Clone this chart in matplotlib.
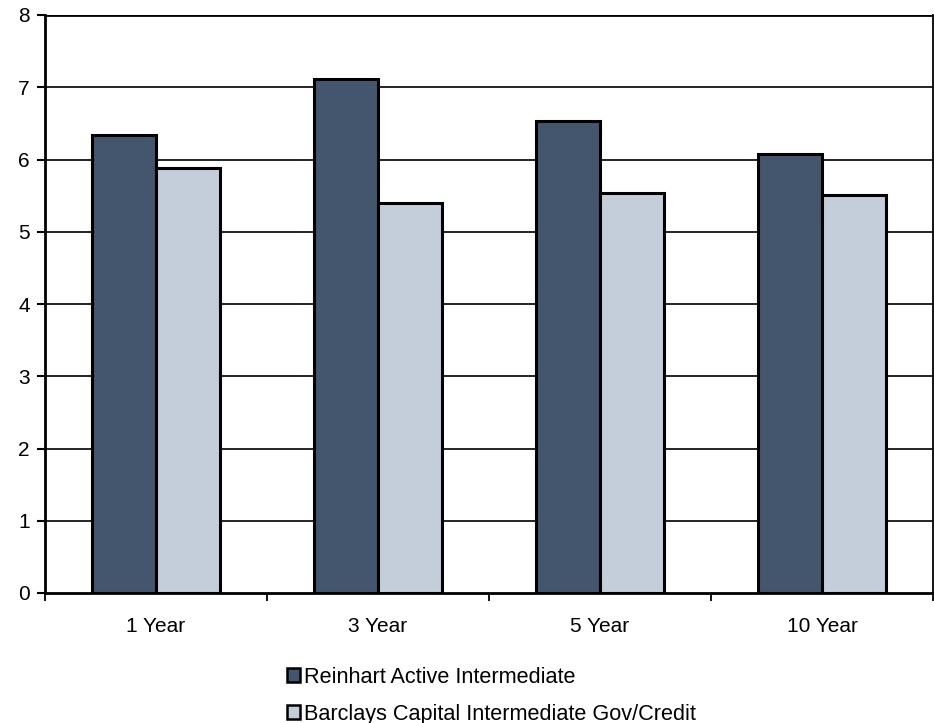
import matplotlib
matplotlib.use("Agg")
import matplotlib.pyplot as plt
from matplotlib.patches import Patch
import numpy as np

plt.rcParams['font.family'] = ['Liberation Sans', 'DejaVu Sans']

# data
periods = ['1 Year', '3 Year', '5 Year', '10 Year']
reinhart = [6.34, 7.11, 6.53, 6.08]
barclays = [5.88, 5.40, 5.54, 5.51]
series_names = ['Reinhart Active Intermediate',
                'Barclays Capital Intermediate Gov/Credit']

dark = '#44566e'
light = '#c3ceda'
fs = 15

fig = plt.figure(figsize=(9.34, 7.23), dpi=100)
ax = fig.add_axes([45/934, 1 - 593/723, 888/934, 578/723])

x = np.arange(len(periods))
w = 0.29
ax.bar(x - w/2, reinhart, w, color=dark, edgecolor='black', linewidth=2.2, zorder=3)
ax.bar(x + w/2, barclays, w, color=light, edgecolor='black', linewidth=2.2, zorder=3)

ax.set_xlim(-0.5, len(periods) - 0.5)
ax.set_ylim(0, 8)
ax.set_yticks(range(0, 9))
for yv in range(1, 9):
    ax.axhline(yv, color='black', lw=1.2 if yv < 8 else 2, zorder=1)

ax.set_xticks(x)
ax.set_xticklabels(periods, fontsize=fs)
ax.tick_params(axis='x', length=0, pad=17)
ax.set_xticks(np.arange(-0.5, len(periods)), minor=True)
ax.tick_params(axis='x', which='minor', length=6, width=1.3, direction='out')
ax.tick_params(axis='y', length=6, width=1.5, direction='out', labelsize=fs, pad=5)

ax.spines['top'].set_visible(False)
ax.spines['left'].set_linewidth(2)
ax.spines['bottom'].set_linewidth(2)
ax.spines['right'].set_linewidth(1.3)

handles = [Patch(facecolor=dark, edgecolor='black', linewidth=1.8),
           Patch(facecolor=light, edgecolor='black', linewidth=1.8)]
fig.legend(handles, series_names, loc='upper left', bbox_to_anchor=(287/934, 1 - 667/723),
           frameon=False, fontsize=15.6, handlelength=0.6, handleheight=0.6,
           handletextpad=0.2, labelspacing=0.72, borderaxespad=0, borderpad=0)

fig.savefig('out.png', dpi=100)
